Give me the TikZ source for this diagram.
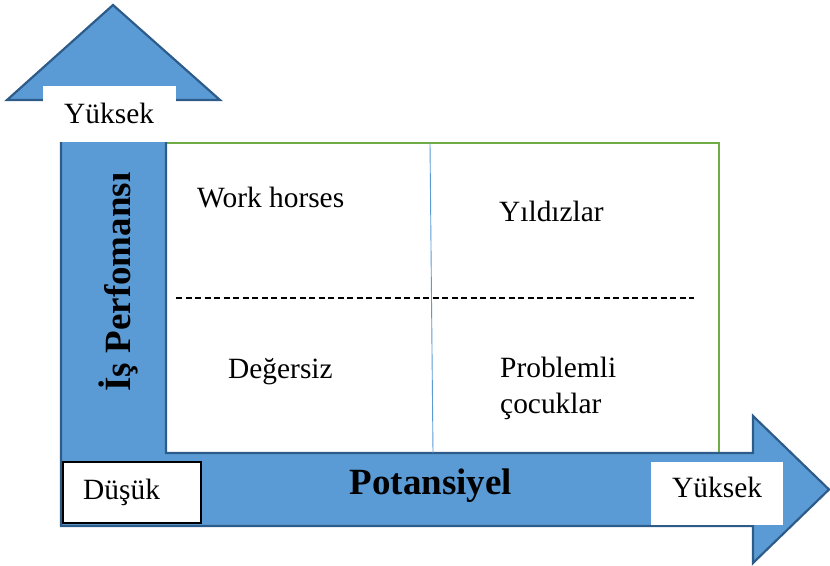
\documentclass[tikz,border=0pt]{standalone}
\usepackage{fontspec}
\setmainfont{Liberation Serif}
\definecolor{arrowfill}{HTML}{5B9BD5}
\definecolor{arrowedge}{HTML}{2E5C8A}
\definecolor{gridgreen}{HTML}{70AD47}
\begin{document}
\begin{tikzpicture}[x=1pt,y=-1pt,
  lbl/.style={inner sep=0pt,font=\fontsize{29.4}{35}\selectfont,anchor=base west},
  bigbold/.style={inner sep=0pt,font=\fontsize{37}{44}\selectfont\bfseries},
  whitebox/.style={fill=white,draw=none}]
\useasboundingbox (0,0) rectangle (830,565);
% quadrant area
\draw[gridgreen,line width=1.5pt,fill=white] (166,143) rectangle (719,453);
% combined arrows
\draw[arrowedge,line width=2.2pt,fill=arrowfill,line join=miter]
  (61,526) -- (61,100) -- (7,100) -- (113,5) -- (220,100) -- (166,100)
  -- (166,453) -- (753,453) -- (753,416) -- (829,489.5) -- (753,563)
  -- (753,526) -- cycle;
% dividers
\draw[arrowfill,line width=0.9pt] (430,143) -- (433,453);
\draw[black,line width=1.6pt,dash pattern=on 6pt off 3.5pt] (176,298) -- (694,298);
% label boxes
\fill[whitebox] (43,86) rectangle (176,142);
\fill[whitebox] (651,462) rectangle (783,525);
\draw[black,line width=2pt,fill=white] (63,462) rectangle (201,523);
% texts
\node[lbl] (ytop) at (64,123) {Yüksek};
\node[lbl] (yright) at (672,497) {Yüksek};
\node[lbl] (dusuk) at (83,499) {Düşük};
\node[lbl] (work) at (197,207) {Work horses};
\node[lbl] (yildiz) at (499,221) {Yıldızlar};
\node[lbl] (deger) at (228,378) {Değersiz};
\node[lbl] (prob) at (500,377) {Problemli};
\node[lbl] (cocuk) at (500,413) {çocuklar};
\node[bigbold,anchor=base,rotate=90] (isperf) at (130,282) {İş Perfomansı};
\node[bigbold,anchor=base] (pot) at (431,494) {Potansiyel};
\end{tikzpicture}
\end{document}
